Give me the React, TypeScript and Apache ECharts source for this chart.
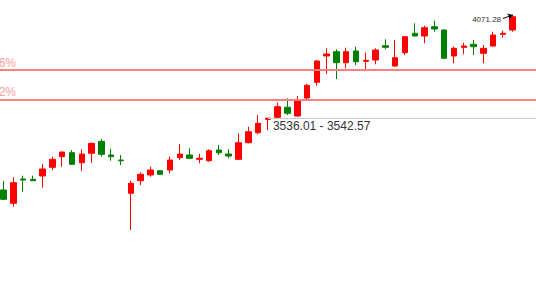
import React, { useEffect, useRef } from "react";
import * as echarts from "echarts";

// [open, close, low, high] for each visible trading day
const ohlc: number[][] = [
  [3174.1, 3126.4, 3122.8, 3220.2],
  [3105.9, 3211.5, 3088.5, 3239.2],
  [3230.4, 3225.3, 3165.3, 3247.4],
  [3228.9, 3221.7, 3220.0, 3247.4],
  [3245.8, 3281.7, 3185.8, 3307.3],
  [3290.4, 3331.4, 3276.6, 3344.8],
  [3344.8, 3368.8, 3293.5, 3370.4],
  [3365.3, 3305.8, 3302.2, 3379.1],
  [3314.0, 3358.6, 3271.5, 3382.7],
  [3362.2, 3413.4, 3314.0, 3416.5],
  [3423.7, 3357.1, 3344.8, 3435.5],
  [3353.5, 3344.8, 3324.3, 3385.8],
  [3327.8, 3324.3, 3302.2, 3353.5],
  [3157.1, 3208.4, 2969.0, 3221.7],
  [3221.7, 3254.5, 3199.7, 3264.8],
  [3250.9, 3276.6, 3242.2, 3293.5],
  [3273.0, 3254.5, 3250.9, 3276.6],
  [3276.6, 3327.8, 3259.7, 3344.8],
  [3339.6, 3358.6, 3327.8, 3409.9],
  [3353.5, 3336.6, 3335.0, 3387.8],
  [3331.4, 3336.6, 3310.9, 3358.6],
  [3324.3, 3375.5, 3319.1, 3382.7],
  [3379.1, 3365.3, 3353.5, 3404.7],
  [3358.6, 3348.3, 3336.6, 3382.7],
  [3331.4, 3416.5, 3327.8, 3464.7],
  [3416.5, 3472.9, 3413.4, 3498.5],
  [3467.8, 3516.0, 3459.6, 3558.5],
  [3536.01, 3542.57, 3481.6, 3543.5],
  [3546.7, 3601.1, 3541.6, 3621.6],
  [3598.0, 3567.2, 3558.5, 3644.1],
  [3553.4, 3635.4, 3549.8, 3655.9],
  [3645.7, 3710.8, 3635.4, 3717.4],
  [3726.1, 3835.3, 3708.7, 3840.4],
  [3860.9, 3871.2, 3768.7, 3900.4],
  [3883.0, 3826.6, 3743.0, 3895.3],
  [3826.6, 3883.0, 3797.9, 3903.5],
  [3886.6, 3831.7, 3814.8, 3908.6],
  [3833.8, 3838.9, 3792.8, 3877.9],
  [3840.4, 3891.7, 3818.4, 3900.4],
  [3913.7, 3905.5, 3895.3, 3946.5],
  [3809.7, 3852.2, 3806.1, 3943.0],
  [3877.9, 3959.9, 3866.1, 3961.0],
  [3977.3, 3963.5, 3962.0, 4028.6],
  [3963.5, 4006.0, 3926.0, 4016.3],
  [4011.1, 3999.3, 3985.5, 4041.9],
  [3994.2, 3849.2, 3845.6, 3997.8],
  [3860.9, 3900.4, 3823.5, 3908.6],
  [3905.5, 3912.2, 3869.7, 3929.1],
  [3920.9, 3908.6, 3866.1, 3943.0],
  [3874.8, 3900.4, 3823.5, 3917.3],
  [3912.2, 3968.6, 3908.6, 3985.5],
  [3972.2, 3977.3, 3954.7, 3990.6],
  [3994.2, 4062.0, 3985.5, 4071.28],
];

const leadingEmpty = 2;
const trailingEmpty = 3;
const categories: string[] = Array.from(
  { length: leadingEmpty + ohlc.length + trailingEmpty },
  (_, i) => "D" + (i + 1)
);

// Fibonacci retracement levels (label, value)
const fibLabels = ["23.6%", "38.2%"];
const fibValues = [3790.2, 3638.0];

// annotated candle (open - close range line)
const rangeIndex = 27;
// max annotation arrow start value
const maxArrowStartValue = 4053.2;

const yMin = 2600;
const yMax = 4148;

export default function App() {
  const ref = useRef<HTMLDivElement>(null);

  useEffect(() => {
    if (!ref.current) return;
    const chart = echarts.init(ref.current, null, { renderer: "svg" });
    const empty = ["-", "-", "-", "-"];
    const data: any[] = [];
    for (let i = 0; i < leadingEmpty; i++) data.push(empty);
    ohlc.forEach((d) => data.push(d));
    for (let i = 0; i < trailingEmpty; i++) data.push(empty);

    const lastIdx = leadingEmpty + ohlc.length - 1;
    const last = ohlc[ohlc.length - 1];
    const rc = ohlc[rangeIndex];
    const font = "Liberation Sans, Arial, sans-serif";

    const fibLines = fibValues.map((v, i) => ({
      yAxis: v,
      lineStyle: { color: "#ff8080", width: 2, type: "solid" },
      label: {
        show: true,
        formatter: fibLabels[i],
        position: "insideStartTop",
        distance: [3, 1],
        color: "#ff9c9c",
        fontSize: 12,
        fontFamily: font,
      },
    }));

    chart.setOption({
      animation: false,
      grid: {
        left: 0,
        right: 0,
        top: 0,
        bottom: 0,
        containLabel: false,
        outerBoundsMode: "none",
      },
      xAxis: {
        type: "category",
        data: categories,
        show: false,
        boundaryGap: true,
      },
      yAxis: {
        type: "value",
        min: yMin,
        max: yMax,
        show: false,
        splitLine: { show: false },
      },
      series: [
        {
          type: "candlestick",
          data,
          barWidth: 6,
          silent: true,
          itemStyle: {
            color: "#ff0000",
            color0: "#008000",
            borderColor: "#ff0000",
            borderColor0: "#008000",
            borderWidth: 1,
          },
          emphasis: { disabled: true },
          markLine: {
            silent: true,
            animation: false,
            symbol: ["none", "none"],
            emphasis: { disabled: true },
            data: [
              ...fibLines,
              [
                {
                  coord: [leadingEmpty + rangeIndex, rc[1]],
                  lineStyle: { color: "#cccccc", width: 1, type: "solid" },
                  label: {
                    show: true,
                    position: "insideStartBottom",
                    distance: [5, 2],
                    formatter: rc[0].toFixed(2) + " - " + rc[1].toFixed(2),
                    color: "#333333",
                    fontSize: 12,
                    fontFamily: font,
                  },
                },
                { coord: [categories.length - 1, rc[1]] },
              ],
              [
                {
                  coord: [lastIdx - 1, maxArrowStartValue],
                  symbol: "none",
                  lineStyle: { color: "#000000", width: 1, type: "solid" },
                  label: {
                    show: true,
                    position: "start",
                    distance: 2,
                    formatter: last[3].toFixed(2),
                    color: "#333333",
                    fontSize: 8,
                    fontFamily: font,
                  },
                },
                { coord: [lastIdx, last[3]], symbol: "arrow", symbolSize: 5 },
              ],
            ],
          },
        },
      ],
    });
    return () => chart.dispose();
  }, []);

  return (
    <div
      ref={ref}
      style={{
        position: "fixed",
        left: -21.5,
        top: 0,
        width: 567.8,
        height: 302,
        background: "#ffffff",
      }}
    />
  );
}
